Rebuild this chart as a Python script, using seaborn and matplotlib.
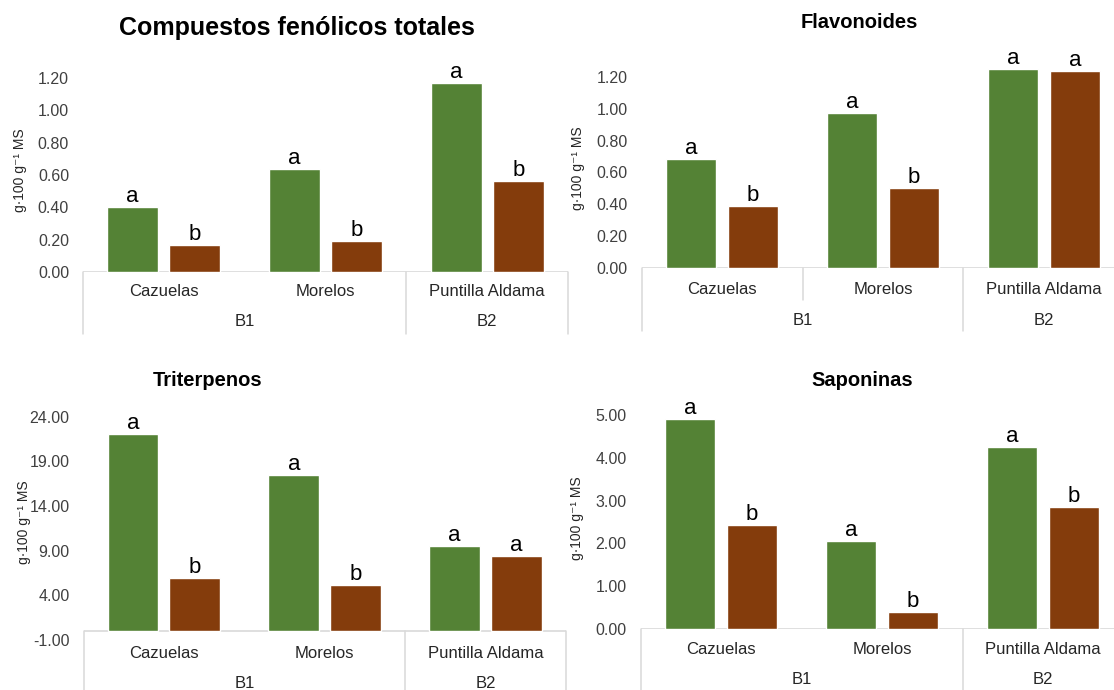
import numpy as np
import pandas as pd
import matplotlib
matplotlib.use("Agg")
import matplotlib.pyplot as plt
import matplotlib.transforms as mtransforms
from matplotlib.ticker import FormatStrFormatter
import seaborn as sns

# ---------------- data ----------------
sites = ["Cazuelas", "Morelos", "Puntilla Aldama"]
site_groups = ["B1", "B1", "B2"]
series_names = ["Serie 1", "Serie 2"]

fenolicos_s1 = [0.40, 0.64, 1.17]
fenolicos_s2 = [0.17, 0.19, 0.56]
fenolicos_let1 = ["a", "a", "a"]
fenolicos_let2 = ["b", "b", "b"]

flavonoides_s1 = [0.685, 0.975, 1.25]
flavonoides_s2 = [0.39, 0.50, 1.235]
flavonoides_let1 = ["a", "a", "a"]
flavonoides_let2 = ["b", "b", "a"]

triterpenos_s1 = [22.1, 17.5, 9.5]
triterpenos_s2 = [5.9, 5.1, 8.4]
triterpenos_let1 = ["a", "a", "a"]
triterpenos_let2 = ["b", "b", "a"]

saponinas_s1 = [4.90, 2.05, 4.26]
saponinas_s2 = [2.42, 0.39, 2.84]
saponinas_let1 = ["a", "a", "a"]
saponinas_let2 = ["b", "b", "b"]

titles = ["Compuestos fenólicos totales", "Flavonoides", "Triterpenos", "Saponinas"]
ylabel = "g·100 g⁻¹ MS"

ticks_fenolicos = [0.0, 0.2, 0.4, 0.6, 0.8, 1.0, 1.2]
ticks_flavonoides = [0.0, 0.2, 0.4, 0.6, 0.8, 1.0, 1.2]
ticks_triterpenos = [-1.0, 4.0, 9.0, 14.0, 19.0, 24.0]
ticks_saponinas = [0.0, 1.0, 2.0, 3.0, 4.0, 5.0]

# ---------------- style ----------------
sns.set_style("white")
plt.rcParams["font.family"] = ["Liberation Sans", "DejaVu Sans"]

GREEN = "#548235"
BROWN = "#843C0C"
LINE = "#D9D9D9"
TXT = "#262626"

W, H = 1114, 690
fig = plt.figure(figsize=(W / 100, H / 100), dpi=100)


def fy(px):
    return 1 - px / H


panels = [
    dict(s1=fenolicos_s1, s2=fenolicos_s2, l1=fenolicos_let1, l2=fenolicos_let2,
         ticks=ticks_fenolicos, left=83, right=568, zero=272, ppu=161.7, ymin=0, ymax=1.30,
         title_xy=(297, 28), title_fs=18, ylab_xy=(20, 170), cat_y=292, grp_y=322,
         tbl_bottom=334, inner_sep=False),
    dict(s1=flavonoides_s1, s2=flavonoides_s2, l1=flavonoides_let1, l2=flavonoides_let2,
         ticks=ticks_flavonoides, left=641.5, right=1124.5, zero=268, ppu=159.2, ymin=0, ymax=1.32,
         title_xy=(859, 23), title_fs=14.5, ylab_xy=(578, 168), cat_y=290, grp_y=320,
         tbl_bottom=331, inner_sep=True),
    dict(s1=triterpenos_s1, s2=triterpenos_s2, l1=triterpenos_let1, l2=triterpenos_let2,
         ticks=ticks_triterpenos, left=83.5, right=566, zero=631, ppu=8.93, ymin=-1, ymax=25,
         title_xy=(208, 381), title_fs=14.5, ylab_xy=(24, 522), cat_y=653, grp_y=683,
         tbl_bottom=695, inner_sep=False),
    dict(s1=saponinas_s1, s2=saponinas_s2, l1=saponinas_let1, l2=saponinas_let2,
         ticks=ticks_saponinas, left=640.5, right=1123.5, zero=629, ppu=42.8, ymin=0, ymax=5.2,
         title_xy=(862, 381), title_fs=14.5, ylab_xy=(577, 518), cat_y=650, grp_y=680,
         tbl_bottom=695, inner_sep=False),
]

for title, p in zip(titles, panels):
    top_px = p["zero"] - p["ymax"] * p["ppu"]
    bot_px = p["zero"] - p["ymin"] * p["ppu"]
    ax = fig.add_axes([p["left"] / W, fy(bot_px), (p["right"] - p["left"]) / W,
                       (bot_px - top_px) / H])

    df = pd.DataFrame({
        "sitio": sites * 2,
        "serie": [series_names[0]] * len(sites) + [series_names[1]] * len(sites),
        "valor": list(p["s1"]) + list(p["s2"]),
    })
    sns.barplot(data=df, x="sitio", y="valor", hue="serie", order=sites,
                hue_order=series_names, palette=[GREEN, BROWN], saturation=1,
                width=0.77, gap=0.18, errorbar=None, legend=False, ax=ax)

    for cont, labs in zip(ax.containers, [p["l1"], p["l2"]]):
        ax.bar_label(cont, labels=labs, padding=0, fontsize=16, color="black")

    ax.set_xlim(-0.5, len(sites) - 0.5)
    ax.set_ylim(p["ymin"], p["ymax"])
    ax.set_yticks(p["ticks"])
    ax.yaxis.set_major_formatter(FormatStrFormatter("%.2f"))
    ax.tick_params(axis="y", length=0, pad=10, labelsize=11.5, labelcolor="#404040")
    ax.set_xticks([])
    ax.set_xlabel("")
    ax.set_ylabel("")
    for sp in ax.spines.values():
        sp.set_visible(False)

    ax.axhline(0, color=LINE, lw=1.2, zorder=0)

    trans = mtransforms.blended_transform_factory(ax.transData, fig.transFigure)
    seps = [-0.5, len(sites) - 0.5]
    for i in range(1, len(sites)):
        if site_groups[i] != site_groups[i - 1]:
            seps.append(i - 0.5)
    for x in seps:
        ax.plot([x, x], [fy(p["zero"]), fy(p["tbl_bottom"])], transform=trans,
                color=LINE, lw=1.1, clip_on=False)
    if p["inner_sep"]:
        for i in range(1, len(sites)):
            if site_groups[i] == site_groups[i - 1]:
                ax.plot([i - 0.5, i - 0.5], [fy(p["zero"]), fy(p["zero"] + 32)],
                        transform=trans, color=LINE, lw=1.1, clip_on=False)

    for i, s in enumerate(sites):
        ax.text(i, fy(p["cat_y"]), s, transform=trans, ha="center", va="center",
                fontsize=12, color=TXT)
    for g in dict.fromkeys(site_groups):
        idx = [i for i, gg in enumerate(site_groups) if gg == g]
        ax.text(np.mean(idx), fy(p["grp_y"]), g, transform=trans, ha="center",
                va="center", fontsize=12, color=TXT)

    fig.text(p["title_xy"][0] / W, fy(p["title_xy"][1]), title, ha="center",
             va="center", fontsize=p["title_fs"], fontweight="bold", color="black")
    fig.text(p["ylab_xy"][0] / W, fy(p["ylab_xy"][1]), ylabel, ha="center",
             va="center", rotation=90, fontsize=10, color=TXT)

fig.savefig("out.png", dpi=100)
